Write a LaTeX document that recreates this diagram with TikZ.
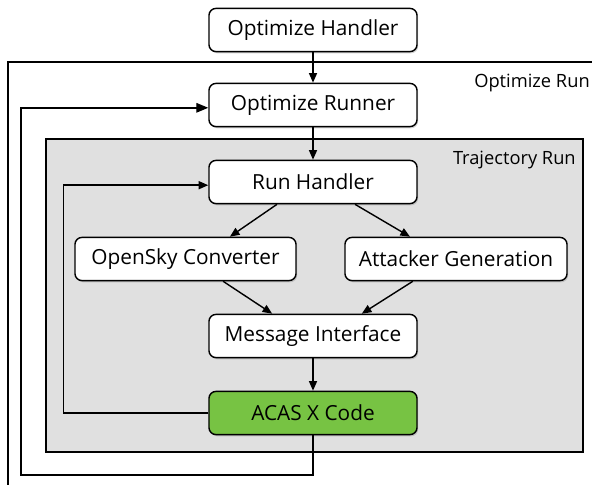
\documentclass[tikz,border=0pt]{standalone}
\usepackage{fontspec}
\setmainfont{Open Sans}
\usetikzlibrary{arrows.meta,shadows}

\definecolor{runfill}{RGB}{224,224,224}
\definecolor{acasgreen}{RGB}{119,195,67}

\tikzset{
    block/.style={draw, line width=1pt, rounded corners=5pt, fill=white,
        minimum width=5.2cm, minimum height=1.08cm,
        drop shadow={shadow xshift=0.8pt, shadow yshift=-1.2pt, opacity=0.35},
        font=\fontsize{14.8}{18}\selectfont},
    frame label/.style={anchor=east, inner sep=0pt, font=\fontsize{13}{16}\selectfont},
    flow/.style={-{Triangle[length=2.4mm,width=2mm]}, line width=1pt},
}

\begin{document}
\begin{tikzpicture}[x=0.025cm, y=-0.025cm]
    \useasboundingbox (0,0) rectangle (592,485);
    \clip (0,0) rectangle (592,485);

    % Optimize run (frame runs off the page)
    \draw[line width=0.9pt] (8,62) rectangle (620,500);
    \node[frame label] (optrun) at (590,83) {Optimize Run};

    % Trajectory run
    \draw[line width=0.9pt, fill=runfill] (46,139) rectangle (583,452);
    \node[frame label] (trajrun) at (576,160) {Trajectory Run};

    % Blocks
    \node[block] (handler) at (313,30) {Optimize Handler};
    \node[block] (runner) at (313,105) {Optimize Runner};
    \node[block] (runhandler) at (313,182) {Run Handler};
    \node[block, minimum width=5.525cm] (opensky) at (185.5,259) {OpenSky Converter};
    \node[block, minimum width=5.55cm] (attacker) at (456,259) {Attacker Generation};
    \node[block] (msgif) at (313,336) {Message Interface};
    \node[block, fill=acasgreen] (acas) at (313,413) {ACAS X Code};

    % Straight flow
    \draw[flow] (handler) -- (runner);
    \draw[flow] (runner) -- (runhandler);
    \draw[flow] (msgif) -- (acas);

    % Fan out / fan in
    \draw[flow] ([xshift=-0.9cm]runhandler.south) -- ([xshift=1.11cm]opensky.north);
    \draw[flow] ([xshift=1.05cm]runhandler.south) -- ([xshift=-1.15cm]attacker.north);
    \draw[flow] ([xshift=0.94cm]opensky.south) -- ([xshift=-1.02cm]msgif.north);
    \draw[flow] ([xshift=-1.08cm]attacker.south) -- ([xshift=1.22cm]msgif.north);

    % Feedback loops
    \draw[flow] (acas.west) -- ++(-145,0) |- ([yshift=-0.08cm]runhandler.west);
    \draw[flow, -{Triangle[length=3mm,width=2.4mm]}] (acas.south) |- (21,475) |- ([yshift=-0.07cm]runner.west);
\end{tikzpicture}
\end{document}
